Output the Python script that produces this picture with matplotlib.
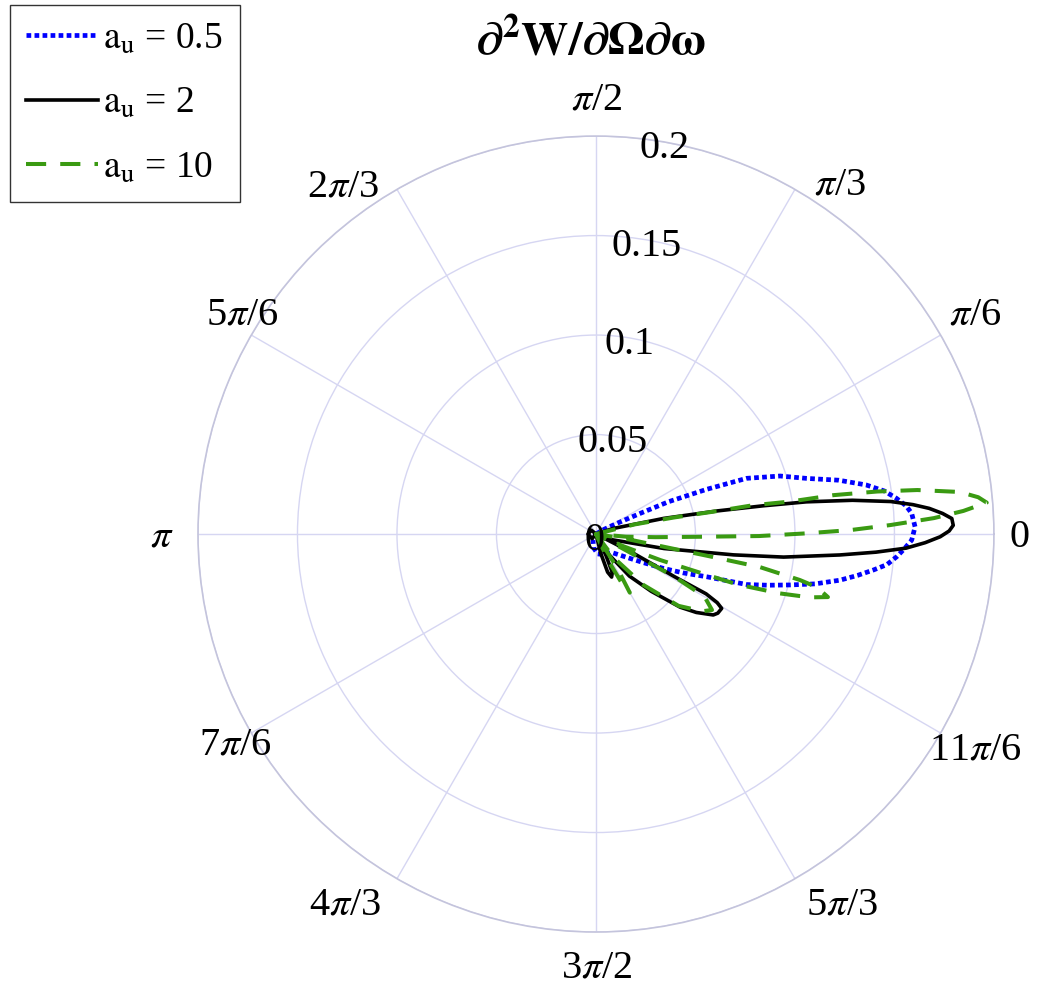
import numpy as np
import matplotlib
matplotlib.use("Agg")
import matplotlib.pyplot as plt


# Values (angle in degrees, radius)
BLUE_THETA = [40, 30, 27, 25, 24, 22, 20.3, 17.5, 14.8, 12.5, 10.3, 8.5, 6.8,
              5.2, 3.75, 1.3, -1.1, -2.8, -4.3, -6, -7.4, -9, -10.7, -12.8,
              -14.7, -16.6, -18.5, -21.1, -24, -27, -31, -35.6, -50, -70, -85,
              -100, -120, -140]
BLUE_R = [0.0, 0.005, 0.012, 0.025, 0.040, 0.060, 0.0807, 0.097, 0.1095,
          0.125, 0.138, 0.1465, 0.152, 0.1565, 0.159, 0.1604, 0.1587, 0.155,
          0.1516, 0.147, 0.1405, 0.133, 0.1248, 0.113, 0.1008, 0.090, 0.080,
          0.0596, 0.048, 0.038, 0.028, 0.021, 0.012, 0.011, 0.010, 0.007,
          0.003, 0.0]

BLACK_THETA = [25, 18, 13, 10.8, 9.6, 8.7, 7.5, 6.3, 5.3, 4.4, 3.4, 2.5, 1.4,
               0.5, -0.45, -1.5, -2.6, -3.7, -4.9, -7, -8.6, -12, -19, -24,
               -27, -28.5, -28.5, -29.5, -30.6, -33, -34.6, -38, -41, -46,
               -51.5, -58, -62,
               -65, -67, -70, -73, -76, -80,
               -100, -130, -180, -220, -250]
BLACK_R = [0.0, 0.009, 0.035, 0.062, 0.085, 0.107, 0.130, 0.149, 0.160, 0.168,
           0.1745, 0.179, 0.1796, 0.1775, 0.173, 0.1655, 0.156, 0.141, 0.123,
           0.095, 0.070, 0.035, 0.009, 0.0,
           0.020, 0.045, 0.063, 0.070, 0.0734, 0.0730, 0.0716, 0.064, 0.056,
           0.040, 0.027, 0.012, 0.0,
           0.012, 0.021, 0.023, 0.020, 0.010, 0.0,
           0.0, 0.003, 0.004, 0.003, 0.0]

GREEN_THETA = [20, 14, 12, 10.8, 10.4, 9.5, 9.3, 8.6, 7.8, 6.6, 5.5, 4.6,
               3.6, 2.7, 1.75, 0.9, 0.2, -0.7, -1.5, -3, -5, -8,
               -9, -10.7, -11.1, -11.4, -12.7, -13.5, -15.2, -16.5, -17.9,
               -19.6, -20.3, -22, -24, -27,
               -28.5, -30, -33.2, -36, -41, -47, -53, -56,
               -58, -60, -62, -65, -70]
GREEN_R = [0.0, 0.020, 0.040, 0.060, 0.080, 0.099, 0.121, 0.143, 0.163,
           0.184, 0.193, 0.197, 0.185, 0.170, 0.148, 0.128, 0.106, 0.082,
           0.052, 0.030, 0.015, 0.0,
           0.015, 0.0378, 0.0599, 0.0841, 0.105, 0.114, 0.1208, 0.112, 0.097,
           0.0757, 0.0573, 0.035, 0.015, 0.0,
           0.045, 0.063, 0.0697, 0.066, 0.055, 0.035, 0.015, 0.0,
           0.020, 0.034, 0.030, 0.015, 0.0]

SERIES_LABELS = [r"$\mathrm{a_u}$ = 0.5", r"$\mathrm{a_u}$ = 2", r"$\mathrm{a_u}$ = 10"]
R_TICKS = [0, 0.05, 0.1, 0.15, 0.2]
R_TICK_LABELS = ["0", "0.05", "0.1", "0.15", "0.2"]
THETA_TICKS_DEG = [0, 30, 60, 90, 120, 150, 180, 210, 240, 270, 300, 330]
THETA_TICK_LABELS = ["0", r"$\pi$/6", r"$\pi$/3", r"$\pi$/2", r"2$\pi$/3",
                     r"5$\pi$/6", r"$\pi$", r"7$\pi$/6", r"4$\pi$/3",
                     r"3$\pi$/2", r"5$\pi$/3", r"11$\pi$/6"]

# where the angle labels sit, pixels from the pole (MATLAB-style layout)
THETA_LABEL_OFFSETS = [(424, -3), (379, 219), (244, 349), (1, 434),
                       (-253, 347), (-354, 219), (-434, -3), (-361, -211),
                       (-251, -371), (1, -434), (246, -371), (379, -216)]

plt.rcParams["font.family"] = ["Liberation Serif", "DejaVu Serif"]
plt.rcParams["mathtext.fontset"] = "stix"

GRID_COLOR = "#d6d6f2"
GREEN = "#3a9a12"
FS = 29

fig = plt.figure(figsize=(10.61, 9.91), dpi=100)
ax = fig.add_axes([0.1866, 0.0595, 0.7502, 0.8032], projection="polar")

ax.plot(np.deg2rad(BLUE_THETA), BLUE_R, color="#0000ff", lw=3.4,
        linestyle=(0, (1.0, 0.7)), label=SERIES_LABELS[0])
ax.plot(np.deg2rad(BLACK_THETA), BLACK_R, color="black", lw=2.6,
        label=SERIES_LABELS[1])
ax.plot(np.deg2rad(GREEN_THETA), GREEN_R, color=GREEN, lw=2.9,
        linestyle=(0, (5, 3.5)), label=SERIES_LABELS[2])

ax.set_ylim(0, 0.2)
ax.set_yticks(R_TICKS)
ax.set_yticklabels([])
ax.set_xticks(np.deg2rad(THETA_TICKS_DEG))
ax.set_xticklabels([])
ax.grid(True, color=GRID_COLOR, lw=1.0)
ax.spines["polar"].set_color("#c4c4dc")
ax.spines["polar"].set_linewidth(1.2)

# radial labels along the 80 degree spoke
for r, lab in zip(R_TICKS, R_TICK_LABELS):
    ax.annotate(lab, xy=(np.deg2rad(80), r), xytext=(-1, -6),
                textcoords="offset pixels", ha="center", va="center",
                fontsize=FS, annotation_clip=False)

for lab, (dx, dy) in zip(THETA_TICK_LABELS, THETA_LABEL_OFFSETS):
    ax.annotate(lab, xy=(0, 0), xytext=(dx, dy), textcoords="offset pixels",
                ha="center", va="center", fontsize=FS, annotation_clip=False)

fig.text(0.556, 0.958, r"$\mathbf{\partial^2 W/\partial\Omega\partial\omega}$",
         fontsize=34, ha="center", va="center")

leg = fig.legend(loc="upper left", bbox_to_anchor=(0.009, 0.995), fontsize=27,
                 frameon=True, fancybox=False, edgecolor="black",
                 handlelength=1.9, handletextpad=0.15, borderpad=0.45,
                 labelspacing=0.8, borderaxespad=0)
leg.get_frame().set_linewidth(1.0)

fig.savefig("out.png", dpi=100)
